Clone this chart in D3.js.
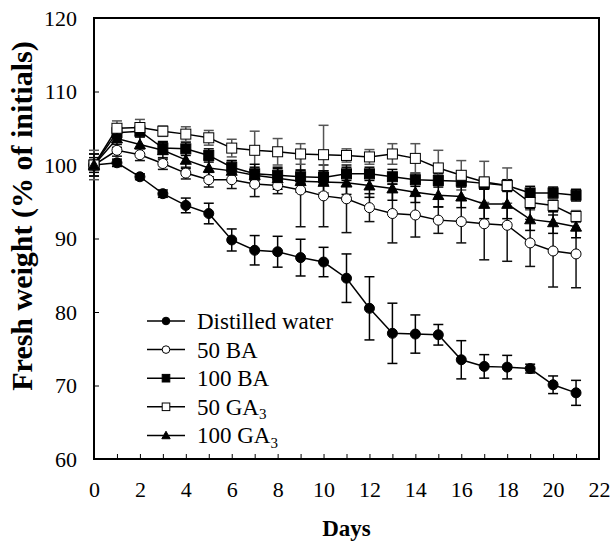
<!DOCTYPE html>
<html>
<head>
<meta charset="utf-8">
<script src="https://cdn.jsdelivr.net/npm/d3@7"></script>
<style>
  body { margin: 0; background: #fff; }
  svg { display: block; }
</style>
</head>
<body>
<div id="chart"></div>
<script>
// Days 0..21
const days = d3.range(0, 22);

const waterMean = [100, 100.3, 98.4, 96.1, 94.5, 93.4, 89.8, 88.4, 88.2, 87.4, 86.8, 84.6, 80.5, 77.1, 77.0, 76.9, 73.5, 72.6, 72.5, 72.3, 70.1, 69.0];
const waterErr  = [0.4, 0.5, 0.4, 0.5, 1.0, 1.4, 1.5, 2.0, 2.1, 2.5, 2.0, 3.3, 4.3, 4.1, 2.6, 1.4, 2.6, 1.6, 1.6, 0.6, 1.2, 1.7];

const ba50Mean = [100, 102.0, 101.4, 100.2, 98.9, 98.0, 98.0, 97.4, 97.2, 96.6, 95.8, 95.4, 94.2, 93.4, 93.2, 92.5, 92.3, 92.0, 91.8, 89.4, 88.3, 87.9];
const ba50Err  = [1.5, 0.8, 0.8, 0.8, 0.8, 1.0, 1.2, 1.7, 1.1, 5.0, 4.2, 4.6, 1.9, 4.0, 3.0, 1.8, 2.9, 4.9, 4.9, 3.2, 4.9, 4.6];

const ba100Mean = [100, 104.4, 104.6, 102.3, 102.2, 101.3, 99.7, 98.8, 98.6, 98.4, 98.3, 98.8, 98.8, 98.4, 98.0, 97.9, 97.8, 97.5, 97.2, 96.2, 96.2, 95.9];
const ba100Err  = [1.0, 0.8, 0.8, 0.8, 0.9, 0.9, 0.9, 0.9, 0.9, 0.9, 0.9, 0.9, 0.9, 1.0, 0.9, 0.9, 0.8, 0.8, 0.8, 0.9, 0.8, 0.8];

const ga50Mean = [100, 105.0, 105.1, 104.6, 104.2, 103.7, 102.3, 102.0, 101.8, 101.5, 101.4, 101.3, 101.1, 101.5, 100.9, 99.6, 98.6, 97.7, 97.2, 94.9, 94.5, 93.0];
const ga50Err  = [2.0, 1.0, 1.1, 0.7, 1.0, 1.0, 1.2, 2.6, 1.8, 1.4, 4.0, 0.9, 1.0, 1.4, 2.0, 2.4, 2.0, 2.8, 2.4, 1.0, 0.9, 0.8];

const ga100Mean = [100, 103.6, 102.8, 102.0, 100.7, 99.6, 99.2, 98.6, 98.2, 97.8, 97.7, 97.6, 97.2, 96.8, 96.3, 95.9, 95.7, 94.7, 94.7, 92.6, 92.2, 91.6];
const ga100Err  = [1.5, 1.2, 1.2, 1.2, 1.2, 1.2, 1.4, 1.5, 1.5, 1.5, 1.5, 1.6, 1.6, 1.6, 1.4, 1.6, 1.5, 2.0, 2.0, 1.5, 1.5, 1.5];

const xTicks = d3.range(0, 23);
const yTicks = [60, 70, 80, 90, 100, 110, 120];

const series = [
  { name: 'Distilled water', sub: null, mean: waterMean, err: waterErr, shape: 'circle', fill: '#000', barColor: '#000' },
  { name: '50 BA', sub: null, mean: ba50Mean, err: ba50Err, shape: 'circle', fill: '#fff', barColor: '#111' },
  { name: '100 BA', sub: null, mean: ba100Mean, err: ba100Err, shape: 'square', fill: '#000', barColor: '#000' },
  { name: '50 GA', sub: '3', mean: ga50Mean, err: ga50Err, shape: 'square', fill: '#fff', barColor: '#555' },
  { name: '100 GA', sub: '3', mean: ga100Mean, err: ga100Err, shape: 'triangle', fill: '#000', barColor: '#000' }
];

const FONT = '"Liberation Serif"';

const W = 610, H = 543;
const margin = { left: 94, right: 11, top: 18, bottom: 84 };
const width = W - margin.left - margin.right;
const height = H - margin.top - margin.bottom;

const svg = d3.select('#chart').append('svg')
  .attr('width', W)
  .attr('height', H);

const g = svg.append('g')
  .attr('transform', `translate(${margin.left},${margin.top})`);

const x = d3.scaleLinear().domain([0, 22]).range([0, width]);
const y = d3.scaleLinear().domain([60, 120]).range([height, 0]);

// Axes (ticks point inward)
const xAxis = d3.axisBottom(x)
  .tickValues(xTicks)
  .tickSize(-5)
  .tickPadding(22)
  .tickFormat(d => d % 2 === 0 ? d : '');

const yAxis = d3.axisLeft(y)
  .tickValues(yTicks)
  .tickSize(-5)
  .tickPadding(17);

function styleAxis(s) {
  s.select('.domain').remove();
  s.selectAll('line').attr('stroke', '#000').attr('stroke-width', 1);
  s.selectAll('text')
    .attr('fill', '#000')
    .style('font-family', FONT)
    .style('font-size', '22px');
}

g.append('g')
  .attr('transform', `translate(0,${height})`)
  .call(xAxis)
  .call(styleAxis);

g.append('g')
  .call(yAxis)
  .call(styleAxis);

// Frame
g.append('rect')
  .attr('width', width)
  .attr('height', height)
  .attr('fill', 'none')
  .attr('stroke', '#000')
  .attr('stroke-width', 2);

const legendX = 147, legendY0 = 321, legendStep = 28.6;

const line = d3.line()
  .x((d, i) => x(days[i]))
  .y(d => y(d));

const capW = 5;

// error bars and lines
series.forEach(s => {
  const bars = g.append('g').attr('stroke', s.barColor).attr('stroke-width', 1.5).attr('fill', 'none');
  s.mean.forEach((m, i) => {
    const cx = x(days[i]);
    const y1 = y(m + s.err[i]), y2 = y(m - s.err[i]);
    bars.append('line').attr('x1', cx).attr('x2', cx).attr('y1', y1).attr('y2', y2);
    bars.append('line').attr('x1', cx - capW).attr('x2', cx + capW).attr('y1', y1).attr('y2', y1);
    bars.append('line').attr('x1', cx - capW).attr('x2', cx + capW).attr('y1', y2).attr('y2', y2);
  });
  g.append('path')
    .datum(s.mean)
    .attr('d', line)
    .attr('fill', 'none')
    .attr('stroke', '#000')
    .attr('stroke-width', 1.5);
});

function drawMarker(sel, shape, cx, cy, size, fill) {
  if (shape === 'circle') {
    sel.append('circle').attr('cx', cx).attr('cy', cy).attr('r', size)
      .attr('fill', fill).attr('stroke', '#000').attr('stroke-width', 1);
  } else if (shape === 'square') {
    sel.append('rect').attr('x', cx - size).attr('y', cy - size)
      .attr('width', size * 2).attr('height', size * 2)
      .attr('fill', fill).attr('stroke', '#000').attr('stroke-width', 1);
  } else {
    const h = size * 1.1;
    sel.append('path')
      .attr('d', `M${cx},${cy - h}L${cx + h},${cy + h * 0.8}L${cx - h},${cy + h * 0.8}Z`)
      .attr('fill', fill).attr('stroke', '#000').attr('stroke-width', 1);
  }
}

// markers
series.forEach(s => {
  const mk = g.append('g');
  s.mean.forEach((m, i) => drawMarker(mk, s.shape, x(days[i]), y(m), 5, s.fill));
});

// Legend
const legend = svg.append('g');
legend.append('rect')
  .attr('x', legendX - 4)
  .attr('y', legendY0 - 16)
  .attr('width', 196)
  .attr('height', legendStep * 5 + 4)
  .attr('fill', '#fff');

series.forEach((s, i) => {
  const ly = legendY0 + i * legendStep;
  legend.append('line')
    .attr('x1', legendX).attr('x2', legendX + 38)
    .attr('y1', ly).attr('y2', ly)
    .attr('stroke', '#000').attr('stroke-width', 1.5);
  drawMarker(legend, s.shape, legendX + 19, ly, 3.8, s.fill);
  const t = legend.append('text')
    .attr('x', legendX + 50)
    .attr('y', ly)
    .attr('dy', '0.35em')
    .style('font-family', FONT)
    .style('font-size', '23px')
    .text(s.name);
  if (s.sub) {
    t.append('tspan')
      .attr('dy', '0.28em')
      .style('font-size', '15px')
      .text(s.sub);
  }
});

// Axis titles
svg.append('text')
  .attr('x', margin.left + width / 2)
  .attr('y', 536)
  .attr('text-anchor', 'middle')
  .style('font-family', FONT)
  .style('font-size', '23px')
  .style('font-weight', 'bold')
  .text('Days');

svg.append('text')
  .attr('transform', `translate(32,216) rotate(-90)`)
  .attr('text-anchor', 'middle')
  .style('font-family', FONT)
  .style('font-size', '30px')
  .style('font-weight', 'bold')
  .text('Fresh weight (% of initials)');
</script>
</body>
</html>
